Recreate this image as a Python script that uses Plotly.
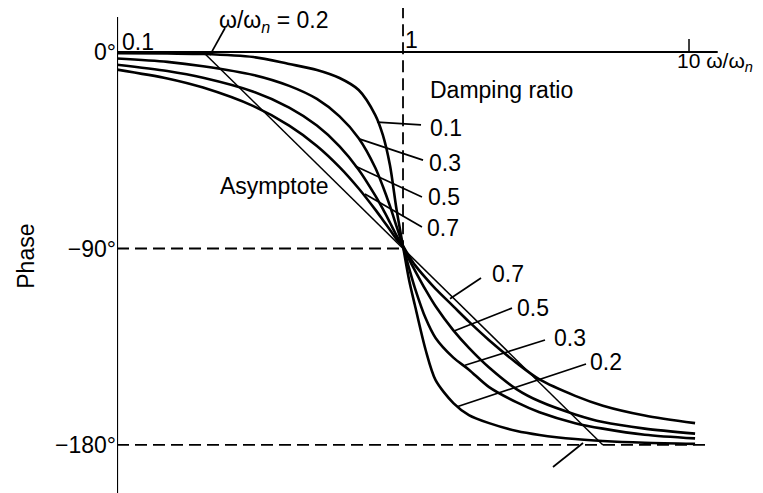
import numpy as np
import plotly.graph_objects as go

# ---- data ----
ratio = [0.1, 0.15, 0.2, 0.3, 0.4, 0.5, 0.6, 0.7, 0.8, 0.85, 0.9, 0.95, 1.0,
         1.05, 1.1, 1.2, 1.3, 1.5, 1.7, 2.0, 2.5, 3.0, 4.0, 5.0, 7.0, 10.5]

phase_01 = [-0.5, -0.7, -0.9, -2.3, -5.5, -8.2, -11.9, -17.4, -28.9, -38, -51.8, -72.4, -89,
            -104.4, -115.9, -136.5, -150.3, -160.8, -166.3, -170, -173.6, -175.4, -177.3, -178.2, -179, -179.5]
phase_03 = [-3, -4.5, -6.5, -10.5, -15.5, -21.5, -29.5, -39.5, -53, -61.5, -70.5, -80, -89,
            -99, -108, -122, -131, -140, -145.5, -153.5, -160.5, -165, -170, -172.5, -175.3, -177]
phase_05 = [-5.8, -8.7, -11.8, -18.2, -25.5, -33.7, -43.2, -53.9, -65.8, -71.9, -78.1, -84.1, -89,
            -95, -100, -109, -116.5, -127.5, -135.5, -144.5, -154.5, -160, -166, -169.5, -172.5, -174.8]
phase_07 = [-8.05, -12.1, -16.3, -24.8, -33.7, -43, -52.7, -62.5, -72.2, -76.9, -81.4, -85.8, -89,
            -93.5, -97.5, -103.5, -108.5, -116.5, -123.5, -132, -142.5, -150, -157.5, -162, -166.5, -170]

asymptote_ratio = [0.2, 5.0]
asymptote_phase = [0, -180]

ytick_vals = [0, -90, -180]
ytick_text = ["0°", "−90°", "−180°"]

# label texts with their (ratio, phase) anchor (left edge, middle) and font size
labels = [
    ("ω/ω<sub><i>n</i></sub> = 0.2", 0.224, 14.2, 23),
    ("0.1", 0.1025, 4.6, 23),
    ("1", 1.0, 5.5, 23),
    ("10 ω/ω<sub><i>n</i></sub>", 8.95, -4.6, 21),
    ("Damping ratio", 1.22, -17.4, 23),
    ("0.1", 1.22, -34.8, 23),
    ("0.3", 1.21, -50.8, 23),
    ("0.5", 1.20, -66.4, 23),
    ("0.7", 1.19, -80.6, 23),
    ("Asymptote", 0.2255, -61.4, 23),
    ("0.7", 2.01, -101.7, 23),
    ("0.5", 2.47, -117.3, 23),
    ("0.3", 3.32, -131.0, 23),
    ("0.2", 4.44, -142.0, 23),
]

# leader lines: (ratio0, phase0, ratio1, phase1)
leaders = [
    (0.2386, 11.0, 0.2114, -1.4),
    (0.811, -32.1, 1.156, -33.4),
    (0.707, -39.9, 1.175, -49.5),
    (0.680, -52.2, 1.165, -66.4),
    (0.736, -65.0, 1.165, -80.2),
    (1.460, -113.0, 1.874, -103.5),
    (1.508, -127.8, 2.405, -117.3),
    (1.647, -143.5, 3.137, -131.9),
    (1.545, -162.5, 4.364, -142.9),
    (3.345, -190.1, 4.26, -179.1),
]

FONT = "Liberation Sans, Arial, Helvetica, sans-serif"
FS = 23

fig = go.Figure()

curve_style = dict(mode="lines", line=dict(color="black", width=2.6, shape="spline", smoothing=0.8),
                   hoverinfo="skip", showlegend=False)
for name, ph in [("ζ=0.1", phase_01), ("ζ=0.3", phase_03), ("ζ=0.5", phase_05), ("ζ=0.7", phase_07)]:
    fig.add_trace(go.Scatter(x=ratio, y=ph, name=name, **curve_style))

# asymptote
fig.add_trace(go.Scatter(x=asymptote_ratio, y=asymptote_phase, mode="lines",
                         line=dict(color="black", width=1.5), showlegend=False, hoverinfo="skip"))

# axes drawn as lines
fig.add_trace(go.Scatter(x=[0.1, 12.6], y=[0, 0], mode="lines",
                         line=dict(color="black", width=2.2), showlegend=False, hoverinfo="skip"))
fig.add_trace(go.Scatter(x=[0.1, 0.1], y=[16, -202], mode="lines",
                         line=dict(color="black", width=2.2), showlegend=False, hoverinfo="skip"))
fig.add_trace(go.Scatter(x=[10, 10], y=[0, 6], mode="lines",
                         line=dict(color="black", width=1.5), showlegend=False, hoverinfo="skip"))

# dashed guides
dash = dict(color="black", width=1.8, dash="12px,6px")
fig.add_trace(go.Scatter(x=[0.1, 1.0], y=[-90, -90], mode="lines", line=dash, showlegend=False, hoverinfo="skip"))
fig.add_trace(go.Scatter(x=[0.1, 11.4], y=[-180, -180], mode="lines", line=dash, showlegend=False, hoverinfo="skip"))
fig.add_trace(go.Scatter(x=[1.0, 1.0], y=[21, -88], mode="lines", line=dash, showlegend=False, hoverinfo="skip"))

# leader lines
for r0, p0, r1, p1 in leaders:
    fig.add_trace(go.Scatter(x=[r0, r1], y=[p0, p1], mode="lines",
                             line=dict(color="black", width=1.7), showlegend=False, hoverinfo="skip"))

for text, r, p, fs in labels:
    fig.add_annotation(x=np.log10(r), y=p, xref="x", yref="y", text=text, showarrow=False,
                       xanchor="left", yanchor="middle", font=dict(family=FONT, size=fs, color="black"))

fig.add_annotation(x=-0.141, y=0.489, xref="paper", yref="paper", text="Phase", textangle=-90,
                   showarrow=False, xanchor="center", yanchor="middle",
                   font=dict(family=FONT, size=FS, color="black"))

fig.update_layout(
    width=755, height=485,
    margin=dict(l=109, r=0, t=0, b=0, autoexpand=False),
    paper_bgcolor="white", plot_bgcolor="white",
    xaxis=dict(type="log", range=[-1, 1.2587], visible=False),
    yaxis=dict(range=[-202, 20.16], showgrid=False, zeroline=False, showline=False,
               tickvals=ytick_vals, ticktext=ytick_text, ticks="", automargin=False,
               tickfont=dict(family=FONT, size=FS, color="black")),
)

fig.write_html("out.html")
